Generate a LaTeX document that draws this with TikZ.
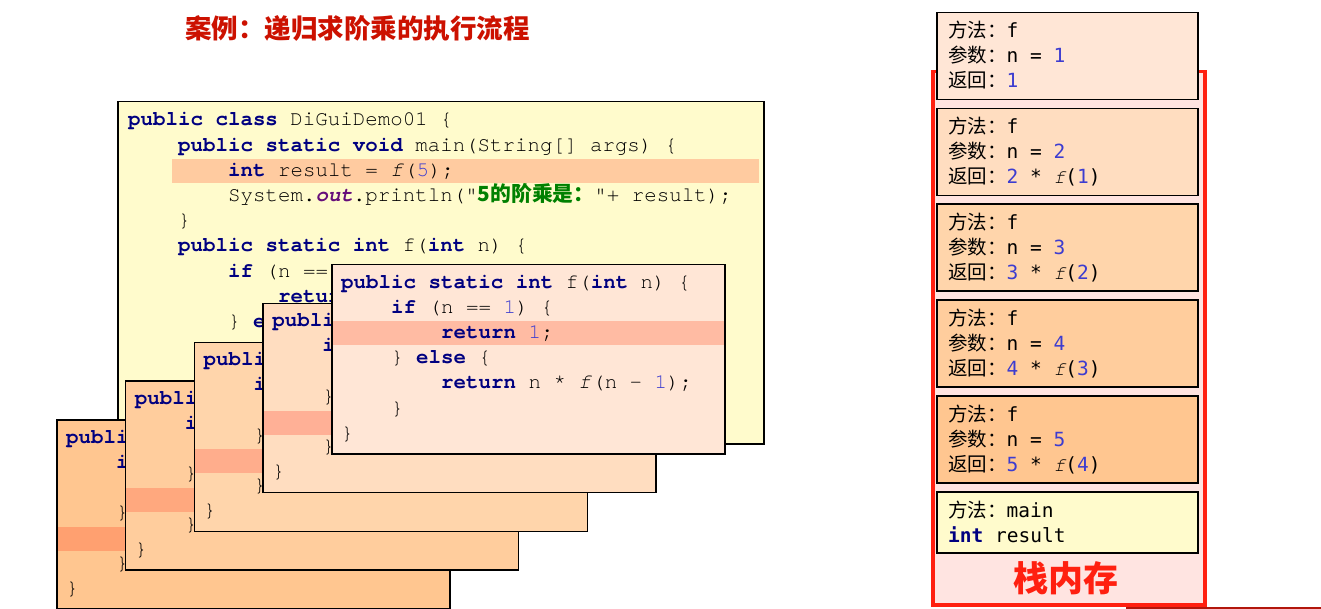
\documentclass[tikz,border=0pt]{standalone}
\usepackage{fontspec}
\setmonofont{texgyrecursor}[Extension=.otf, UprightFont=*-regular, BoldFont=*-bold, ItalicFont=*-italic, BoldItalicFont=*-bolditalic]
\newfontfamily\cjk{Noto Sans CJK SC}
\newfontfamily\sansmono{DejaVu Sans Mono}

\definecolor{kwblue}{HTML}{000080}
\definecolor{numblue}{HTML}{3C3CD0}
\definecolor{strgreen}{HTML}{008000}
\definecolor{fieldpurple}{HTML}{660E7A}
\definecolor{titlered}{HTML}{CC1100}
\definecolor{stackred}{HTML}{FF2010}
\definecolor{stackbg}{HTML}{FFE4E1}
\definecolor{mainbg}{HTML}{FFFBCC}
\definecolor{mainband}{HTML}{FFCBA0}
\definecolor{nbg1}{HTML}{FFE6D6}
\definecolor{nbg2}{HTML}{FFDDC0}
\definecolor{nbg3}{HTML}{FFD5AB}
\definecolor{nbg4}{HTML}{FFCD9D}
\definecolor{nbg5}{HTML}{FFC690}
\definecolor{nband1}{HTML}{FFBBA3}
\definecolor{nband2}{HTML}{FFB096}
\definecolor{nband3}{HTML}{FFAD8C}
\definecolor{nband4}{HTML}{FFA87E}
\definecolor{nband5}{HTML}{FFA070}

\newcommand{\kw}[1]{\textcolor{kwblue}{\bfseries #1}}
\newcommand{\nm}[1]{\textcolor{numblue}{#1}}
\newcommand{\fbody}{%
  0/{\kw{public static int} f(\kw{int} n) \{},
  4/{\kw{if} (n == \nm{1}) \{},
  8/{\kw{return} \nm{1};},
  4/{\} \kw{else} \{},
  8/{\kw{return} n * \textit{f}(n - \nm{1});},
  4/{\}},
  0/{\}}}

\begin{document}
\begin{tikzpicture}
  [x=1pt, y=-1pt,
   codeline/.style={font=\ttfamily\fontsize{20.8}{25.2}\selectfont, anchor=base west, inner sep=0pt},
   codebox/.style={draw=black, line width=1.5pt, minimum width=393pt, minimum height=189pt, anchor=north west, inner sep=0pt},
   frame/.style={draw=black, line width=1.5pt, minimum width=261pt, minimum height=87pt, anchor=north west, inner sep=0pt},
   frameline/.style={font=\sansmono\fontsize{19.5}{25}\selectfont, anchor=base west, inner sep=0pt}]

  \useasboundingbox (0,0) rectangle (1321,609);
  \fill[white] (0,0) rectangle (1321,609);

  \node[anchor=west, inner sep=0pt, text=titlered, font=\cjk\bfseries\fontsize{26.5}{30}\selectfont] (title) at (185,28) {案例：递归求阶乘的执行流程};

  \fill[mainbg] (117,101) rectangle (763,443);
  \fill[mainband] (172,159) rectangle (759,183);
  \foreach \ind/\txt [count=\i from 0] in {
      0/{\kw{public class} DiGuiDemo01 \{},
      4/{\kw{public static void} main(String[] args) \{},
      8/{\kw{int} result = \textit{f}(\nm{5});},
      8/{System.\textcolor{fieldpurple}{\bfseries\itshape out}.println("\textcolor{strgreen}{\cjk\bfseries 5的阶乘是：}"+ result);},
      4/{\}},
      4/{\kw{public static int} f(\kw{int} n) \{},
      8/{\kw{if} (n == \nm{1}) \{},
      12/{\kw{return} \nm{1};},
      8/{\} \kw{else} \{},
      12/{\kw{return} n * \textit{f}(n - \nm{1});},
      8/{\}},
      4/{\}},
      0/{\}}}
    \node[codeline] (m\i) at (128+12.5*\ind, 126+25.2*\i) {\txt};
  \node[draw=black, line width=1.5pt, minimum width=646pt, minimum height=342pt, anchor=north west, inner sep=0pt] (main) at (117,101) {};

  \foreach \k in {1,...,5} {
    \pgfmathsetmacro\bx{56+68.75*(\k-1)}
    \pgfmathsetmacro\by{419-38.75*(\k-1)}
    \pgfmathtruncatemacro\n{6-\k}
    \pgfmathtruncatemacro\bl{\k==5 ? 2 : 4}
    \fill[nbg\n] (\bx,\by) rectangle ++(393,189);
    \fill[nband\n] (\bx,\by+24+25.2*\bl-17) rectangle ++(393,24);
    \foreach \ind/\txt [count=\j from 0] in \fbody
      \node[codeline] (b\k-\j) at (\bx+10+12.5*\ind, \by+24+25.2*\j) {\txt};
    \node[codebox] (b\k) at (\bx,\by) {};
  }

  \fill[stackred!70!black] (1126,606.5) rectangle (1321,609);
  \node[draw=stackred, line width=3.5pt, fill=stackbg, minimum width=272pt, minimum height=533pt, anchor=north west, inner sep=0pt] (stack) at (931,70) {};
  \node[text=stackred, font=\cjk\bfseries\fontsize{35}{40}\selectfont] (stacklabel) at (1066,578) {栈内存};

  \foreach \k in {1,...,5} {
    \pgfmathsetmacro\fy{12+95.75*(\k-1)}
    \pgfmathtruncatemacro\m{\k-1}
    \node[frame, fill=nbg\k] (f\k) at (936,\fy) {};
    \node[frameline] (f\k-0) at (948,\fy+26) {{\cjk 方法：}f};
    \node[frameline] (f\k-1) at (948,\fy+51) {{\cjk 参数：}n = \nm{\k}};
    \node[frameline] (f\k-2) at (948,\fy+76) {{\cjk 返回：}\ifnum\k=1 \nm{1}\else\nm{\k} * {\ttfamily\itshape f}(\nm{\m})\fi};
  }
  \node[frame, fill=mainbg, minimum height=61pt] (fmain) at (936,491) {};
  \node[frameline] (fmain-0) at (948,517) {{\cjk 方法：}main};
  \node[frameline] (fmain-1) at (948,542) {\kw{int} result};
\end{tikzpicture}
\end{document}
